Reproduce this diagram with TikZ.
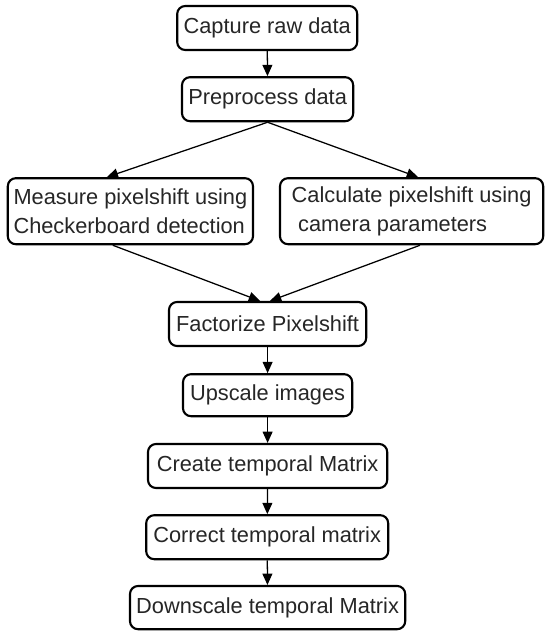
\documentclass[tikz,border=0pt]{standalone}
\usepackage{fontspec}
\setmainfont{Liberation Sans}
\usepackage{xcolor}
\usepackage{tikz}
\usetikzlibrary{positioning,arrows.meta}

\begin{document}
\begin{tikzpicture}[
    stepnode/.style={draw, line width=1.5pt, rounded corners=0.2cm, fill=white,
        text=black!85, font=\fontsize{15.5}{21}\selectfont, inner sep=2pt},
    flow/.style={-{Triangle[length=8pt, width=7pt]}, line width=0.9pt}]
\useasboundingbox (0,0) rectangle (13.75,-15.95);

\node[stepnode, minimum width=4.5cm, minimum height=1.1cm] (capture) at (6.68,-0.70) {Capture raw data};
\node[stepnode, minimum width=4.28cm, minimum height=1.1cm] (preprocess) at (6.69,-2.48) {Preprocess data};

\node[stepnode, minimum width=6.13cm, minimum height=1.65cm, align=left] (measure) at (3.26,-5.28)
    {Measure pixelshift using\\Checkerboard detection};
\node[stepnode, minimum width=6.58cm, minimum height=1.65cm, align=left] (calculate) at (10.29,-5.28)
    {Calculate pixelshift using\\\hspace{0.3em}camera parameters};

\node[stepnode, minimum width=4.93cm, minimum height=1.1cm] (factorize) at (6.69,-8.10) {Factorize Pixelshift};
\node[stepnode, minimum width=4.23cm, minimum height=1.05cm] (upscale) at (6.69,-9.88) {Upscale images};
\node[stepnode, minimum width=5.98cm, minimum height=1.1cm] (create) at (6.69,-11.65) {Create temporal Matrix};
\node[stepnode, minimum width=6.05cm, minimum height=1.1cm] (correct) at (6.68,-13.43) {Correct temporal matrix};
\node[stepnode, minimum width=6.88cm, minimum height=1.08cm] (downscale) at (6.69,-15.19) {Downscale temporal Matrix};

\draw[flow] (capture) -- (preprocess);
\draw[flow] (preprocess.south) -- ([xshift=-0.59cm]measure.north);
\draw[flow] (preprocess.south) -- ([xshift=0.16cm]calculate.north);
\draw[flow] ([xshift=-0.44cm]measure.south) -- ([xshift=-0.19cm]factorize.north);
\draw[flow] ([xshift=0.21cm]calculate.south) -- ([xshift=0.06cm]factorize.north);
\draw[flow] (factorize) -- (upscale);
\draw[flow] (upscale) -- (create);
\draw[flow] (create) -- (correct);
\draw[flow] (correct) -- (downscale);

\end{tikzpicture}
\end{document}
